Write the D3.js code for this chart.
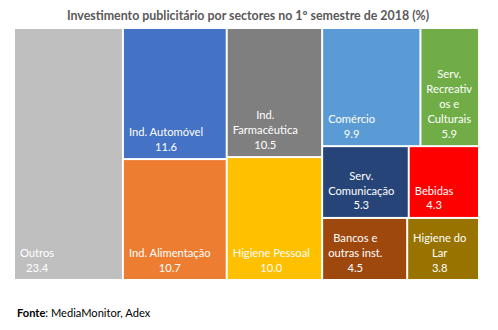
<!DOCTYPE html>
<html><head><meta charset="utf-8">
<script src="https://cdn.jsdelivr.net/npm/d3@7"></script>
<style>body{margin:0;background:#fff;}svg{display:block;}</style>
</head><body>
<script>
const title = "Investimento publicitário por sectores no 1º semestre de 2018 (%)";
const categories = ["Outros","Ind. Automóvel","Ind. Alimentação","Ind. Farmacêutica","Higiene Pessoal","Comércio","Serv. Recreativos e Culturais","Serv. Comunicação","Bebidas","Bancos e outras inst.","Higiene do Lar"];
const labelLines = [["Outros"],["Ind. Automóvel"],["Ind. Alimentação"],["Ind.","Farmacêutica"],["Higiene Pessoal"],["Comércio"],["Serv.","Recreativ","os e","Culturais"],["Serv.","Comunicação"],["Bebidas"],["Bancos e","outras inst."],["Higiene do","Lar"]];
const values = [23.4,11.6,10.7,10.5,10.0,9.9,5.9,5.3,4.3,4.5,3.8];
const colors = ["#BFBFBF","#4472C4","#ED7D31","#7F7F7F","#FFC000","#5B9BD5","#70AD47","#264478","#FF0000","#9E480E","#997300"];
// grouping path used by the slice/dice treemap
const groups = [[],["B"],["B"],["C"],["C"],["D","D1"],["D","D1"],["D","D2"],["D","D2"],["D","D3"],["D","D3"]];

const W = 498, H = 330;
const svg = d3.select("body").append("svg").attr("width", W).attr("height", H);

const root = {name:"root", children:[]};
categories.forEach((c,i)=>{
  let node = root;
  groups[i].forEach(g=>{
    let ch = node.children.find(n=>n.name===g);
    if(!ch){ ch = {name:g, children:[]}; node.children.push(ch); }
    node = ch;
  });
  node.children.push({name:c, value:values[i], idx:i});
});

const h = d3.hierarchy(root).sum(d=>d.value||0);
d3.treemap().tile(d3.treemapSliceDice).size([463,250]).paddingInner(2)(h);

const g = svg.append("g").attr("transform","translate(15,29)");
const leaves = h.leaves();
const cell = g.selectAll("g.cell").data(leaves).enter().append("g").attr("class","cell");
cell.append("rect")
  .attr("x", d=>d.x0).attr("y", d=>d.y0)
  .attr("width", d=>d.x1-d.x0).attr("height", d=>d.y1-d.y0)
  .attr("fill", d=>colors[d.data.idx]);

const fontFam = "Lato, 'Open Sans', sans-serif";
const lh = 14.8;
cell.each(function(d){
  const i = d.data.idx;
  const lines = labelLines[i].concat([values[i].toFixed(1)]);
  const t = d3.select(this).append("text")
    .attr("font-family", fontFam).attr("font-size", 11.2).attr("fill","#FFFFFF");
  const tspans = lines.map((ln,k)=> t.append("tspan").text(ln));
  const widths = tspans.map(s=>s.node().getComputedTextLength());
  const bw = Math.max(...widths);
  const cx = d.x0 + 5 + bw/2;
  const lastBase = d.y1 - 7.5;
  tspans.forEach((s,k)=>{
    s.attr("x", cx).attr("y", lastBase - (lines.length-1-k)*lh).attr("text-anchor","middle");
  });
});

svg.append("text").attr("x", 248).attr("y", 20).attr("text-anchor","middle")
  .attr("font-family", fontFam).attr("font-weight","bold").attr("font-size", 12.4)
  .attr("fill","#595959").text(title);

const ft = svg.append("text").attr("x", 17).attr("y", 317)
  .attr("font-family", fontFam).attr("font-size", 11.1).attr("fill","#000");
ft.append("tspan").attr("font-weight","bold").text("Fonte");
ft.append("tspan").text(": MediaMonitor, Adex");
</script>
</body></html>
